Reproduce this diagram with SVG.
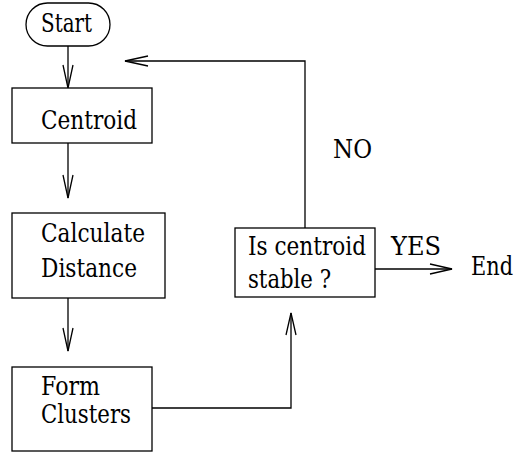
<svg xmlns="http://www.w3.org/2000/svg" width="517" height="452" viewBox="0 0 517 452">
  <defs>
    <style>
      .box { fill: #ffffff; stroke: #000000; stroke-width: 1.3; }
      .line { fill: none; stroke: #000000; stroke-width: 1.3; }
      .head { fill: none; stroke: #000000; stroke-width: 1.3; stroke-linejoin: miter; }
      .lbl { font-family: 'DejaVu Serif', serif; font-size: 25.5px; fill: #000000; }
    </style>
  </defs>
  <rect width="517" height="452" fill="#ffffff"/>

  <g id="connectors">
    <!-- Start to Centroid -->
    <path class="line" d="M68,46 V88"/>
    <path class="head" d="M63,65 L68,88 L73,65"/>
    <!-- Centroid to Calculate Distance -->
    <path class="line" d="M68,143 V198"/>
    <path class="head" d="M63,175 L68,198 L73,175"/>
    <!-- Calculate Distance to Form Clusters -->
    <path class="line" d="M68,298 V351"/>
    <path class="head" d="M63,328 L68,351 L73,328"/>
    <!-- Form Clusters to decision -->
    <path class="line" d="M152,408 H291 V313"/>
    <path class="head" d="M286,335 L291,313 L296,335"/>
    <!-- NO: loop back to Centroid -->
    <path class="line" d="M305,228 V61 H125"/>
    <path class="head" d="M148,56 L125,61 L148,66"/>
    <!-- YES: to End -->
    <path class="line" d="M375,269 H452"/>
    <path class="head" d="M430,264 L452,269 L430,274"/>
    <text class="lbl" x="333" y="158" textLength="39" lengthAdjust="spacingAndGlyphs">NO</text>
    <text class="lbl" x="391" y="255" textLength="50" lengthAdjust="spacingAndGlyphs">YES</text>
  </g>

  <g id="start">
    <rect class="box" x="26" y="3" width="84" height="43" rx="21.5" ry="21.5"/>
    <text class="lbl" x="41" y="32" textLength="51" lengthAdjust="spacingAndGlyphs">Start</text>
  </g>

  <g id="centroid">
    <rect class="box" x="12" y="88" width="140" height="55"/>
    <text class="lbl" x="41" y="129" textLength="96" lengthAdjust="spacingAndGlyphs">Centroid</text>
  </g>

  <g id="calculate-distance">
    <rect class="box" x="12" y="213" width="153" height="85"/>
    <text class="lbl" x="41" y="242" textLength="104" lengthAdjust="spacingAndGlyphs">Calculate</text>
    <text class="lbl" x="41" y="277" textLength="96" lengthAdjust="spacingAndGlyphs">Distance</text>
  </g>

  <g id="form-clusters">
    <rect class="box" x="12" y="367" width="140" height="84"/>
    <text class="lbl" x="41" y="395" textLength="59" lengthAdjust="spacingAndGlyphs">Form</text>
    <text class="lbl" x="41" y="423" textLength="90" lengthAdjust="spacingAndGlyphs">Clusters</text>
  </g>

  <g id="decision">
    <rect class="box" x="235" y="228" width="140" height="69"/>
    <text class="lbl" x="248" y="255" textLength="118" lengthAdjust="spacingAndGlyphs">Is centroid</text>
    <text class="lbl" x="248" y="288" textLength="83" lengthAdjust="spacingAndGlyphs">stable ?</text>
  </g>

  <g id="end">
    <text class="lbl" x="471" y="275" textLength="42" lengthAdjust="spacingAndGlyphs">End</text>
  </g>
</svg>
